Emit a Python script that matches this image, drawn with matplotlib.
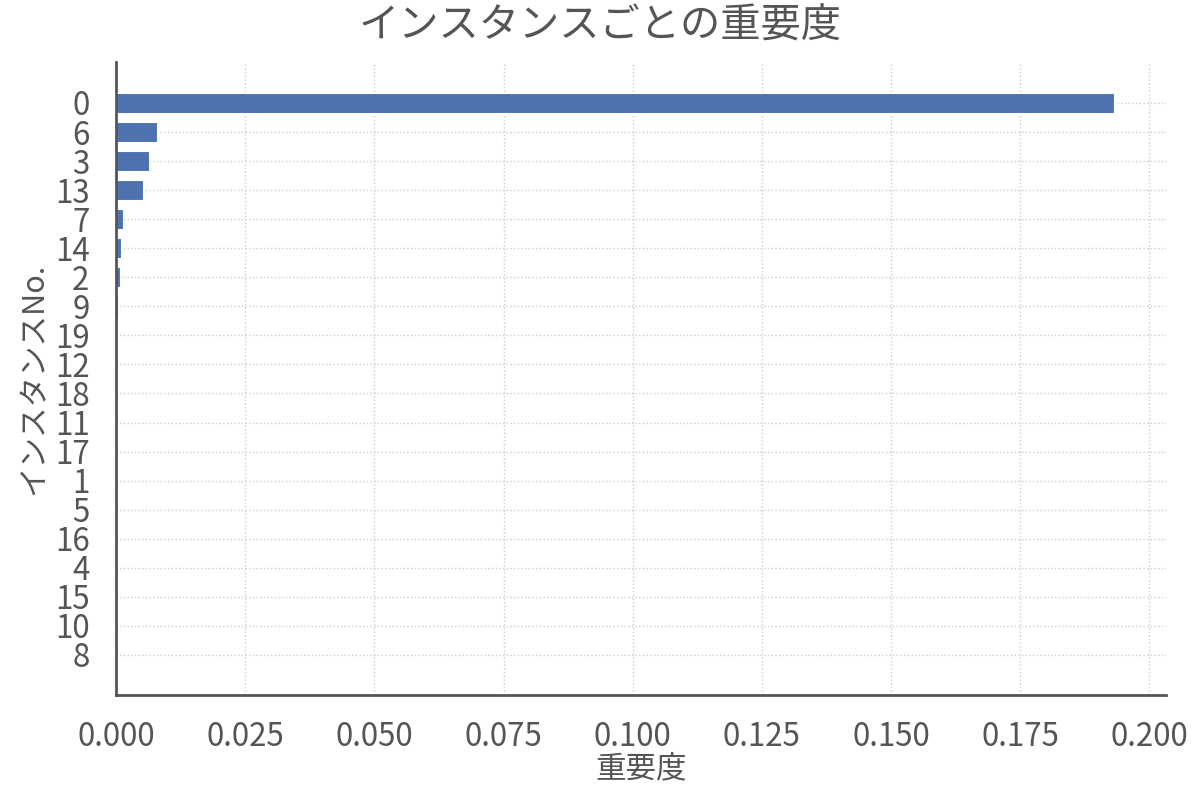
import matplotlib.pyplot as plt

plt.rcParams['font.family'] = ['Noto Sans CJK JP', 'DejaVu Sans']

# インスタンスごとの重要度（上から順）
instances = ['0', '6', '3', '13', '7', '14', '2', '9', '19', '12',
             '18', '11', '17', '1', '5', '16', '4', '15', '10', '8']
importance = [0.1932, 0.0079, 0.0064, 0.0052, 0.0014, 0.0010, 0.0008, 0.0004, 0.0002, 0.0,
              0.0, 0.0, 0.0, 0.0, 0.0, 0.0, 0.0, 0.0, 0.0, 0.0]

text_color = '#555555'

fig = plt.figure(figsize=(12, 8), dpi=100)
ax = fig.add_axes([116 / 1200, 105 / 800, 1050 / 1200, 633 / 800])

pos = list(range(len(instances)))
ax.barh(pos, importance, height=0.68, color='#4c72b0', edgecolor='white', linewidth=0.8, zorder=2)

ax.set_yticks(pos)
ax.set_yticklabels(instances)
ax.set_ylim(len(instances) - 1 + 1.38, -1.41)
ax.set_xlim(0, 0.2032)
ax.set_xticks([0.0, 0.025, 0.05, 0.075, 0.1, 0.125, 0.15, 0.175, 0.2])
ax.set_xticklabels(['0.000', '0.025', '0.050', '0.075', '0.100', '0.125', '0.150', '0.175', '0.200'])

ax.grid(True, linestyle=':', color='#cccccc', linewidth=1.0, zorder=0)
ax.set_axisbelow(True)
ax.tick_params(axis='both', length=0, pad=19, labelsize=22.5, labelcolor=text_color)

for side in ['top', 'right']:
    ax.spines[side].set_visible(False)
for side in ['left', 'bottom']:
    ax.spines[side].set_color(text_color)
    ax.spines[side].set_linewidth(2)
    ax.spines[side].set_zorder(3)

fig.text(0.5, 1 - 26 / 800, 'インスタンスごとの重要度', fontsize=29, color=text_color,
         ha='center', va='center')
ax.set_xlabel('重要度', fontsize=22, color=text_color, labelpad=0)
ax.set_ylabel('インスタンスNo.', fontsize=22, color=text_color, labelpad=4)

fig.savefig('out.png', dpi=100)
